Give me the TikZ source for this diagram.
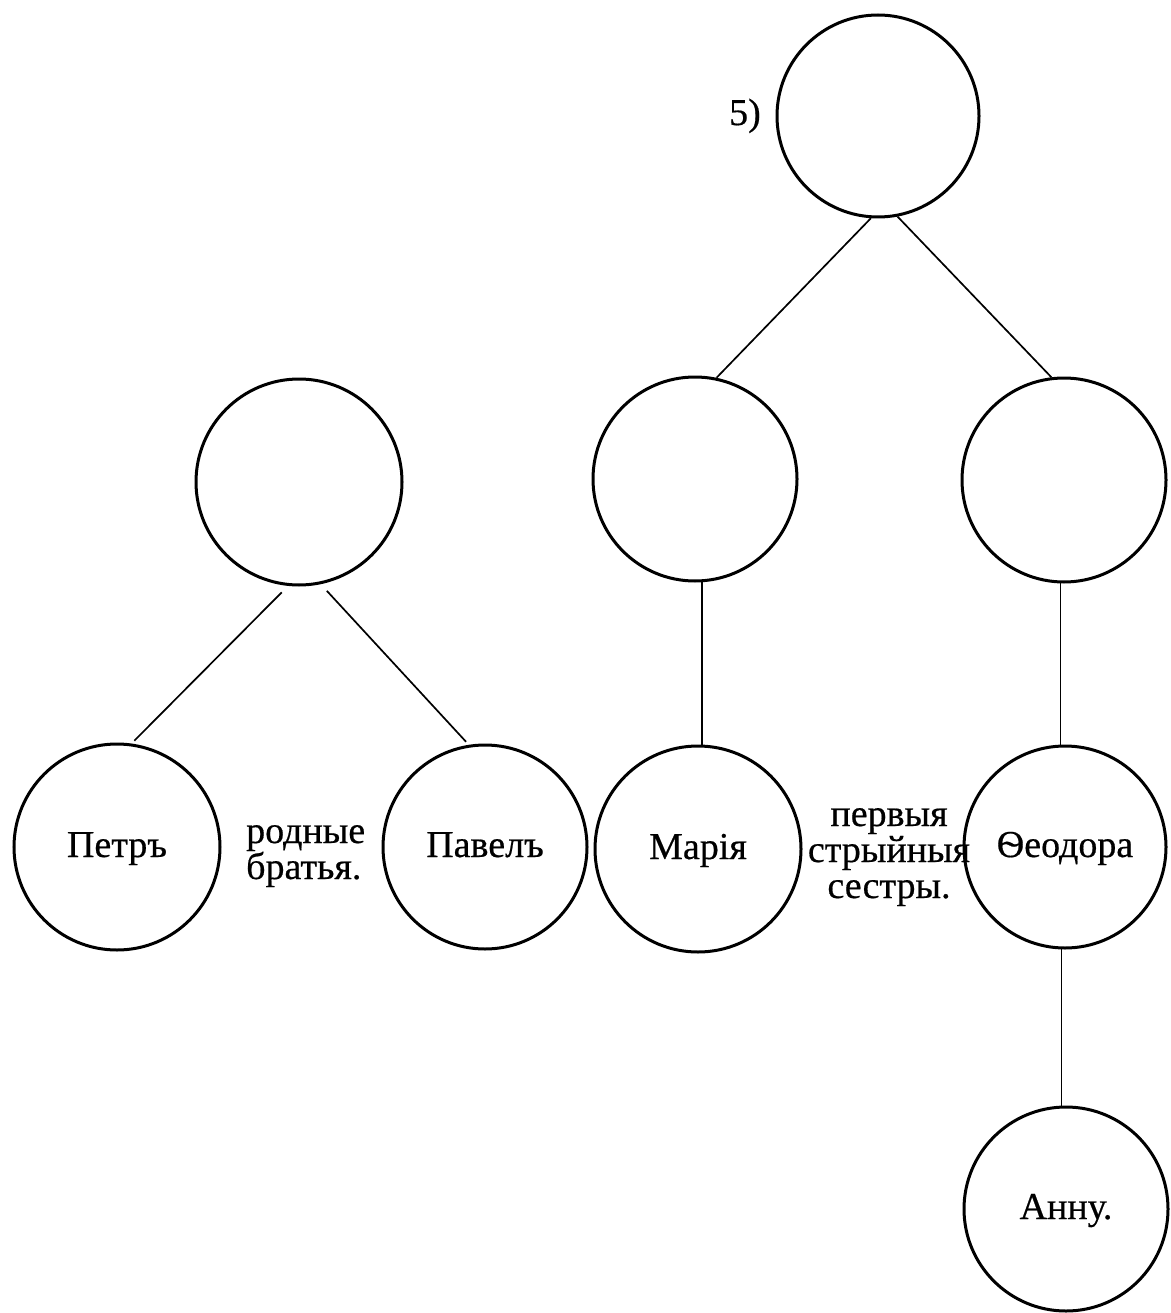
\documentclass[tikz,border=0pt]{standalone}
\usepackage{fontspec}
\setmainfont{Liberation Serif}
\newfontfamily\oldfont{Liberation Serif}[FakeBold=0.5]
\usetikzlibrary{calc}
\begin{document}
\begin{tikzpicture}[x=1pt,y=-1pt,
  person/.style={circle, draw=black, line width=3pt, inner sep=0pt,
    text height=26pt, text depth=6pt, font=\oldfont\fontsize{38}{38}\selectfont},
  lbl/.style={inner sep=0pt, text height=14pt, text depth=0pt,
    font=\oldfont\fontsize{38}{38}\selectfont},
  link/.style={line width=1.7pt}]
\useasboundingbox (0,0) rectangle (1170,1313);
\fill[white] (0,0) rectangle (1170,1313);

% circles
\node[person, minimum size=202pt] (top) at (878,116) {};
\node[person, minimum size=206pt] (lm) at (299,482) {};
\node[person, minimum size=204pt] (mid) at (695,479) {};
\node[person, minimum size=204pt] (rm) at (1064,480) {};
\node[person, minimum size=206pt] (petr) at (117,847) {Петръ};
\node[person, minimum size=204pt] (pavel) at (485,847) {Павелъ};
\node[person, minimum size=206pt] (maria) at (698,849) {Марія};
\node[person, minimum size=202pt] (theo) at (1065,847) {Ѳеодора};
\node[person, minimum size=204pt] (anna) at (1066,1209) {Анну.};

% connectors
\draw[link] (top.266) -- (mid.78);
\draw[link] (top.281) -- (rm.97);
\draw[link, shorten <=9pt, shorten >=4pt] (lm.264) -- (petr.82);
\draw[link, shorten <=9pt, shorten >=4pt] (lm.282) -- (pavel.99);
\draw[link] (mid.274) -- (mid.274 |- maria.north);
\draw[link] (rm.268) -- (rm.268 |- theo.north);
\draw[link] (theo.268) -- (theo.268 |- anna.north);

% labels
\node[lbl, anchor=base east] (num) at (761,125) {5)};
\node[lbl, anchor=base west] (rod) at (246,843) {родные};
\node[lbl, anchor=base west] (brat) at (246,879) {братья.};
\node[lbl, anchor=base] (perv) at (889,826) {первыя};
\node[lbl, anchor=base] (stry) at (889,862) {стрыйныя};
\node[lbl, anchor=base] (sest) at (889,898) {сестры.};
\end{tikzpicture}
\end{document}
